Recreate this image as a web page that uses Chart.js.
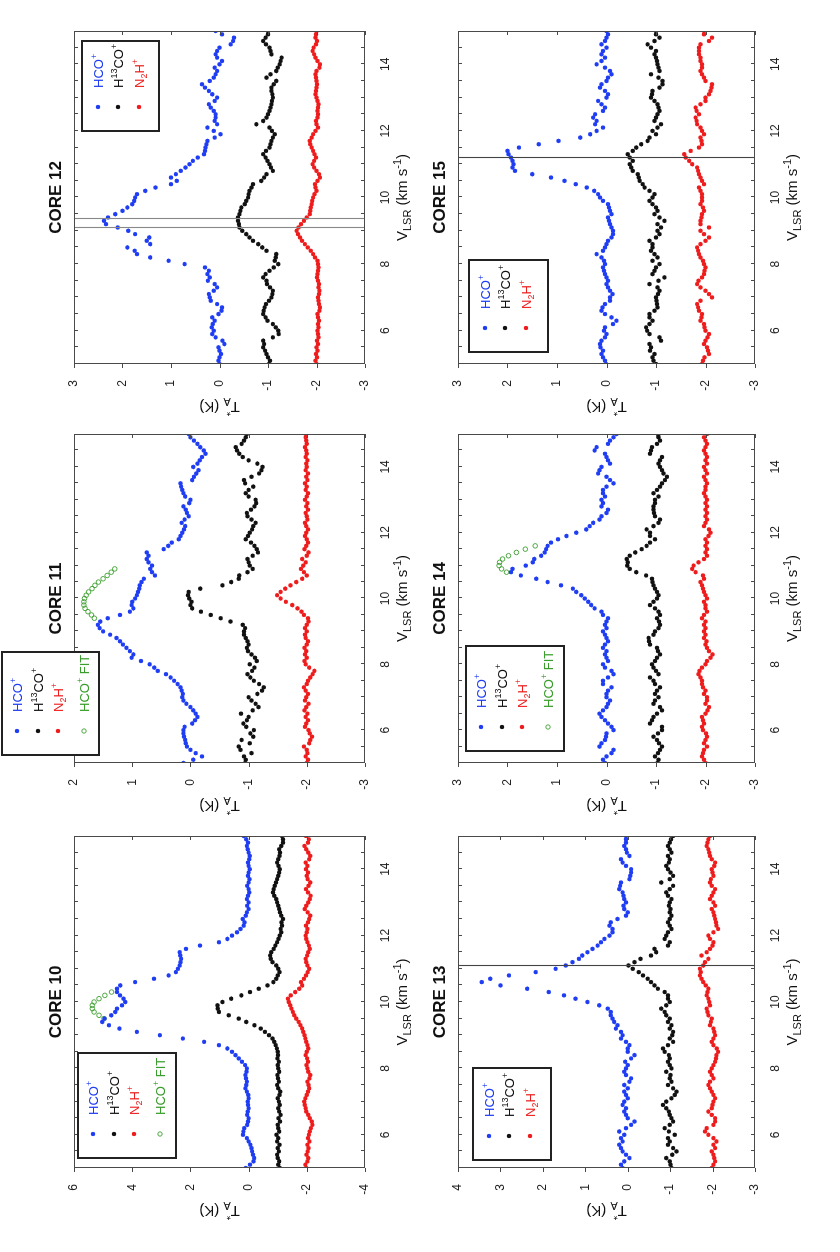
<!DOCTYPE html>
<html>
<head>
<meta charset="utf-8">
<script src="https://cdn.jsdelivr.net/npm/chart.js@4.4.1/dist/chart.umd.min.js"></script>
<style>
  html, body { margin: 0; padding: 0; background: #fff; overflow: hidden; }
  /* the figure is laid out landscape and turned a quarter turn, like the source page */
  #fig { position: absolute; left: 0; top: 0; width: 1252px; height: 840px;
         transform-origin: 0 0; transform: translate(0, 1252px) rotate(-90deg); }
  #fig canvas { position: absolute; }
</style>
</head>
<body>
<div id="fig"></div>
<script>
const FONT = 'Arial, "Liberation Sans", Helvetica, sans-serif'

// channel velocities (km/s)
const vel = [
  5.0, 5.1, 5.2, 5.3, 5.4, 5.5, 5.6, 5.7, 5.8, 5.9,
  6.0, 6.1, 6.2, 6.3, 6.4, 6.5, 6.6, 6.7, 6.8, 6.9,
  7.0, 7.1, 7.2, 7.3, 7.4, 7.5, 7.6, 7.7, 7.8, 7.9,
  8.0, 8.1, 8.2, 8.3, 8.4, 8.5, 8.6, 8.7, 8.8, 8.9,
  9.0, 9.1, 9.2, 9.3, 9.4, 9.5, 9.6, 9.7, 9.8, 9.9,
  10.0, 10.1, 10.2, 10.3, 10.4, 10.5, 10.6, 10.7, 10.8, 10.9,
  11.0, 11.1, 11.2, 11.3, 11.4, 11.5, 11.6, 11.7, 11.8, 11.9,
  12.0, 12.1, 12.2, 12.3, 12.4, 12.5, 12.6, 12.7, 12.8, 12.9,
  13.0, 13.1, 13.2, 13.3, 13.4, 13.5, 13.6, 13.7, 13.8, 13.9,
  14.0, 14.1, 14.2, 14.3, 14.4, 14.5, 14.6, 14.7, 14.8, 14.9,
  15.0
]

const xTicks = [6, 8, 10, 12, 14]

// ---- CORE 10 ----
const yTicks10 = [-4, -2, 0, 2, 4, 6]
const hco10 = [
  0.10, -0.05, -0.17, -0.19, -0.15, -0.12, -0.10, -0.06, 0.00, 0.06,
  0.19, 0.18, 0.15, 0.05, 0.02, 0.00, 0.05, 0.03, 0.00, 0.02,
  0.03, 0.00, 0.01, 0.06, 0.11, 0.08, 0.06, 0.09, 0.11, 0.07,
  0.06, 0.12, 0.23, 0.34, 0.45, 0.57, 0.73, 1.02, 1.53, 2.26,
  3.05, 3.84, 4.44, 4.80, 5.03, 4.95, 4.72, 4.58, 4.52, 4.35,
  4.24, 4.30, 4.42, 4.52, 4.52, 4.41, 3.90, 3.25, 2.75, 2.50,
  2.43, 2.37, 2.34, 2.32, 2.35, 2.37, 2.15, 1.67, 1.02, 0.73,
  0.57, 0.40, 0.28, 0.17, 0.14, 0.20, 0.10, 0.06, 0.00, 0.05,
  0.00, 0.06, 0.02, -0.02, 0.00, 0.05, 0.00, -0.03, 0.02, 0.00,
  -0.04, 0.00, 0.02, -0.02, -0.04, 0.00, 0.03, 0.06, 0.02, 0.08,
  0.17
]
const h13co10 = [
  -1.07, -1.02, -1.05, -1.00, -0.98, -1.04, -1.00, -1.06, -0.98, -1.02,
  -0.96, -1.05, -1.02, -1.00, -1.08, -1.03, -1.10, -1.05, -1.02, -1.07,
  -1.04, -1.00, -1.06, -1.09, -1.02, -0.98, -1.04, -1.01, -0.99, -1.05,
  -1.02, -1.00, -1.04, -0.99, -1.01, -1.00, -0.97, -0.93, -0.88, -0.82,
  -0.70, -0.56, -0.42, -0.20, 0.08, 0.34, 0.68, 1.02, 1.06, 1.07,
  0.90, 0.60, 0.25, -0.05, -0.35, -0.65, -0.85, -0.95, -1.00, -1.06,
  -1.02, -0.95, -0.82, -0.76, -0.74, -0.78, -0.86, -0.92, -0.98, -1.03,
  -1.07, -1.12, -1.10, -1.15, -1.13, -1.18, -1.12, -1.08, -1.05, -1.02,
  -0.98, -0.95, -0.88, -0.84, -0.86, -0.90, -0.94, -0.98, -1.02, -1.05,
  -1.07, -1.03, -0.98, -1.02, -1.06, -1.08, -1.05, -1.12, -1.18, -1.18,
  -1.15
]
const n2h10 = [
  -1.98, -1.95, -2.02, -2.05, -1.99, -2.03, -2.06, -2.02, -2.09, -2.04,
  -2.07, -2.10, -2.14, -2.19, -2.17, -2.10, -2.05, -1.98, -1.96, -1.93,
  -1.91, -1.95, -2.00, -2.04, -2.08, -2.06, -2.02, -2.09, -2.12, -2.05,
  -2.02, -1.99, -2.04, -2.01, -1.96, -2.00, -2.05, -2.02, -1.98, -1.95,
  -1.92, -1.88, -1.84, -1.78, -1.72, -1.64, -1.57, -1.52, -1.47, -1.43,
  -1.38, -1.35, -1.45, -1.60, -1.74, -1.84, -1.80, -1.90, -1.97, -2.03,
  -2.08, -2.02, -1.98, -1.96, -2.01, -2.05, -2.10, -2.07, -2.02, -1.98,
  -1.96, -2.00, -2.02, -1.97, -2.04, -2.08, -2.12, -2.03, -1.93, -1.98,
  -2.05, -2.10, -2.13, -2.04, -1.97, -2.06, -2.12, -2.03, -2.00, -2.04,
  -1.97, -2.02, -1.96, -2.08, -2.12, -2.05, -1.98, -1.92, -2.04, -2.07,
  -1.97
]
const fitVel10 = [9.5, 9.6, 9.7, 9.8, 9.9, 10.0, 10.1, 10.2, 10.3]
const fit10 = [4.97, 5.14, 5.31, 5.37, 5.37, 5.31, 5.14, 4.94, 4.71]

// ---- CORE 11 ----
const yTicks11 = [-3, -2, -1, 0, 1, 2]
const hco11 = [
  0.12, -0.05, -0.20, -0.09, 0.00, 0.06, 0.08, 0.09, 0.11, 0.12,
  0.12, 0.10, -0.03, -0.08, -0.12, -0.09, -0.05, 0.00, 0.07, 0.12,
  0.14, 0.13, 0.15, 0.17, 0.22, 0.28, 0.34, 0.42, 0.56, 0.62,
  0.70, 0.85, 1.01, 0.98, 1.04, 1.10, 1.16, 1.21, 1.27, 1.38,
  1.50, 1.56, 1.59, 1.55, 1.42, 1.21, 1.04, 0.98, 1.01, 1.00,
  0.95, 0.92, 0.90, 0.88, 0.87, 0.84, 0.80, 0.61, 0.66, 0.69,
  0.66, 0.72, 0.75, 0.72, 0.75, 0.46, 0.38, 0.32, 0.20, 0.17,
  0.14, 0.11, 0.09, 0.15, 0.10, 0.03, 0.06, 0.08, 0.12, 0.02,
  0.00, 0.09, 0.12, 0.14, 0.16, 0.17, -0.03, -0.06, -0.10, -0.14,
  -0.05, -0.12, -0.16, -0.20, -0.26, -0.23, -0.17, -0.12, -0.06, 0.00,
  0.03
]
const h13co11 = [
  -0.94, -0.95, -0.92, -1.05, -0.86, -0.83, -1.02, -0.88, -1.08, -1.03,
  -1.09, -0.96, -0.91, -0.97, -1.00, -0.87, -1.07, -1.17, -1.12, -1.05,
  -1.00, -1.15, -1.23, -1.26, -1.18, -1.09, -1.03, -0.98, -1.06, -1.10,
  -1.02, -1.14, -1.11, -1.05, -0.99, -0.97, -1.00, -0.98, -0.95, -0.92,
  -0.92, -0.94, -0.90, -0.69, -0.52, -0.35, -0.18, -0.03, 0.00, -0.02,
  0.02, 0.04, 0.03, -0.17, -0.55, -0.70, -0.83, -0.84, -0.98, -1.07,
  -1.02, -1.00, -0.98, -1.07, -1.16, -1.14, -1.10, -1.04, -0.95, -0.99,
  -1.02, -1.06, -1.08, -1.12, -1.05, -0.98, -0.97, -1.04, -1.10, -1.13,
  -1.12, -1.00, -0.95, -1.00, -1.08, -0.94, -0.92, -1.05, -1.18, -1.22,
  -1.24, -1.15, -1.00, -0.90, -0.84, -0.80, -0.78, -0.88, -0.92, -0.95,
  -0.97
]
const n2h11 = [
  -2.00, -2.02, -1.98, -2.01, -2.00, -1.95, -2.04, -2.06, -2.09, -2.05,
  -2.03, -1.97, -1.99, -2.02, -1.98, -2.01, -1.96, -1.99, -2.03, -1.97,
  -1.99, -2.02, -1.98, -1.95, -2.00, -2.02, -2.06, -2.10, -2.13, -2.04,
  -1.98, -1.96, -2.00, -1.97, -1.99, -1.96, -2.00, -2.02, -1.98, -1.97,
  -2.00, -1.97, -2.00, -2.03, -2.02, -1.95, -1.91, -1.84, -1.75, -1.64,
  -1.55, -1.49, -1.55, -1.63, -1.72, -1.82, -1.92, -2.00, -1.95, -1.90,
  -1.94, -1.98, -1.92, -2.00, -2.03, -1.96, -1.99, -2.02, -2.00, -1.97,
  -1.99, -2.02, -1.99, -1.97, -2.01, -2.00, -1.98, -2.02, -1.99, -2.01,
  -1.97, -2.00, -2.02, -1.98, -2.00, -1.97, -2.01, -1.99, -2.02, -1.98,
  -2.00, -1.99, -2.01, -1.98, -2.00, -1.99, -1.97, -2.00, -1.99, -1.98,
  -1.98
]
const fitVel11 = [9.4, 9.5, 9.6, 9.7, 9.8, 9.9, 10.0, 10.1, 10.2, 10.3, 10.4, 10.5, 10.6, 10.7, 10.8, 10.9]
const fit11 = [1.65, 1.70, 1.76, 1.81, 1.83, 1.83, 1.82, 1.79, 1.75, 1.69, 1.64, 1.58, 1.50, 1.43, 1.36, 1.30]

// ---- CORE 12 ----
const yTicks12 = [-3, -2, -1, 0, 1, 2, 3]
const hco12 = [
  0.00, 0.02, 0.00, -0.03, 0.00, 0.02, -0.10, -0.06, 0.08, 0.15,
  0.12, 0.16, 0.14, 0.10, 0.15, 0.02, -0.04, -0.05, 0.05, 0.18,
  0.20, 0.22, 0.12, 0.05, 0.10, 0.24, 0.20, 0.25, 0.22, 0.30,
  0.72, 1.05, 1.43, 1.70, 1.75, 1.90, 1.43, 1.50, 1.45, 1.74,
  1.88, 2.10, 2.34, 2.38, 2.30, 2.15, 2.00, 1.90, 1.80, 1.76,
  1.74, 1.70, 1.53, 1.32, 1.00, 0.88, 1.00, 0.90, 0.80, 0.70,
  0.62, 0.55, 0.45, 0.32, 0.30, 0.29, 0.27, 0.25, 0.10, -0.02,
  0.12, 0.25, 0.05, 0.10, 0.08, 0.08, 0.12, 0.18, 0.22, 0.10,
  0.05, 0.15, 0.22, 0.30, 0.36, 0.20, 0.12, 0.08, 0.05, 0.10,
  0.00, -0.05, 0.05, 0.08, 0.05, 0.00, -0.23, -0.28, -0.30, -0.05,
  0.08
]
const h13co12 = [
  -1.02, -1.04, -1.00, -0.97, -0.94, -0.90, -0.92, -0.90, -1.10, -1.22,
  -1.21, -1.16, -1.10, -0.99, -0.95, -0.90, -0.91, -0.93, -0.96, -1.02,
  -1.07, -1.09, -1.10, -1.04, -0.98, -0.97, -0.90, -0.95, -1.03, -1.12,
  -1.21, -1.14, -1.16, -1.17, -0.97, -0.88, -0.80, -0.69, -0.62, -0.55,
  -0.47, -0.41, -0.40, -0.38, -0.38, -0.41, -0.43, -0.45, -0.52, -0.55,
  -0.59, -0.60, -0.62, -0.66, -0.69, -0.86, -0.92, -0.97, -1.10, -1.06,
  -1.03, -0.99, -0.95, -0.90, -0.96, -1.03, -1.05, -1.07, -1.10, -1.14,
  -1.08, -1.03, -0.76, -0.90, -0.97, -1.00, -1.03, -1.05, -1.07, -1.08,
  -1.10, -1.09, -1.07, -1.07, -1.12, -1.17, -0.97, -1.05, -1.17, -1.20,
  -1.24, -1.26, -1.28, -1.07, -1.05, -1.03, -0.96, -0.90, -0.95, -1.00,
  -1.00
]
const n2h12 = [
  -2.00, -1.98, -2.01, -1.99, -2.02, -2.00, -2.03, -2.01, -2.04, -2.03,
  -2.02, -2.04, -2.03, -2.05, -2.03, -2.02, -2.06, -2.07, -2.05, -2.04,
  -2.03, -2.05, -2.06, -2.04, -2.05, -2.03, -2.01, -2.02, -2.03, -2.04,
  -2.03, -2.02, -1.97, -1.93, -1.88, -1.82, -1.76, -1.70, -1.66, -1.62,
  -1.59, -1.63, -1.68, -1.74, -1.80, -1.86, -1.87, -1.88, -1.90, -1.91,
  -1.93, -1.96, -2.00, -1.98, -1.97, -2.02, -2.07, -2.05, -2.00, -1.95,
  -1.92, -1.95, -1.99, -1.96, -1.93, -1.90, -1.87, -1.86, -1.90, -1.93,
  -1.98, -2.03, -2.00, -1.99, -2.02, -2.03, -2.02, -2.03, -2.04, -2.02,
  -2.00, -1.98, -1.99, -2.00, -2.01, -2.00, -1.99, -1.98, -2.00, -2.06,
  -2.07, -2.02, -1.98, -1.95, -1.92, -1.94, -1.99, -2.01, -1.98, -1.99,
  -2.00
]
const lines12 = [9.07, 9.35]

// ---- CORE 13 ----
const yTicks13 = [-3, -2, -1, 0, 1, 2, 3, 4]
const hco13 = [
  0.12, 0.16, 0.08, -0.04, 0.04, 0.12, 0.16, 0.20, 0.12, 0.16,
  0.08, 0.20, 0.04, -0.08, -0.16, 0.00, 0.04, 0.08, 0.04, 0.12,
  0.08, 0.00, 0.04, 0.08, 0.00, 0.08, -0.04, -0.08, 0.04, 0.08,
  0.04, 0.00, 0.06, -0.08, -0.16, 0.00, 0.00, -0.04, 0.04, 0.16,
  0.12, 0.16, 0.28, 0.24, 0.32, 0.36, 0.40, 0.40, 0.47, 0.67,
  0.95, 1.23, 1.50, 1.86, 2.37, 3.00, 3.44, 3.24, 2.80, 2.17,
  1.70, 1.46, 1.30, 1.15, 1.07, 0.95, 0.83, 0.71, 0.63, 0.55,
  0.43, 0.36, 0.36, 0.43, 0.40, 0.24, 0.04, 0.00, 0.08, 0.10,
  0.04, 0.08, 0.10, 0.12, 0.20, 0.18, 0.16, -0.04, -0.06, -0.08,
  -0.08, 0.04, 0.12, 0.16, -0.04, 0.02, 0.04, 0.08, 0.04, 0.04,
  0.04
]
const h13co13 = [
  -1.03, -1.01, -0.99, -0.91, -1.05, -1.15, -1.07, -0.95, -0.99, -0.95,
  -1.11, -0.97, -0.87, -0.99, -1.07, -1.03, -0.99, -0.97, -0.91, -0.83,
  -0.91, -1.03, -1.11, -1.15, -1.07, -0.95, -1.03, -0.99, -1.01, -0.91,
  -1.03, -0.99, -0.95, -0.99, -0.97, -0.87, -0.83, -0.95, -1.07, -0.99,
  -1.05, -1.07, -0.99, -1.03, -0.95, -0.99, -0.91, -0.87, -0.79, -0.91,
  -0.99, -0.95, -0.95, -0.87, -0.71, -0.63, -0.55, -0.47, -0.36, -0.26,
  -0.12, -0.02, -0.16, -0.30, -0.55, -0.67, -0.63, -0.95, -0.99, -0.87,
  -0.91, -0.95, -1.03, -0.99, -0.95, -0.99, -1.03, -0.99, -1.01, -0.97,
  -0.99, -1.03, -0.95, -0.91, -0.99, -1.07, -0.79, -0.99, -1.07, -1.01,
  -0.95, -0.91, -0.97, -0.99, -0.95, -1.03, -0.99, -0.95, -0.99, -1.02,
  -1.07
]
const n2h13 = [
  -1.98, -2.02, -2.06, -2.04, -2.02, -1.98, -2.06, -2.02, -2.09, -2.02,
  -1.90, -1.82, -1.86, -2.02, -2.06, -2.06, -1.98, -1.90, -1.98, -2.00,
  -2.02, -2.06, -2.02, -1.98, -1.94, -1.90, -1.94, -2.02, -1.98, -1.94,
  -1.98, -2.02, -2.06, -2.08, -2.09, -2.13, -2.10, -2.02, -1.98, -2.02,
  -2.06, -2.04, -2.02, -1.94, -1.96, -1.98, -1.90, -1.88, -1.86, -1.94,
  -1.92, -1.90, -1.86, -1.88, -1.90, -1.84, -1.78, -1.74, -1.70, -1.72,
  -1.70, -1.78, -1.82, -1.90, -1.74, -1.86, -1.94, -2.00, -2.02, -1.94,
  -1.90, -2.02, -2.13, -2.09, -2.08, -2.06, -2.04, -2.02, -1.98, -2.06,
  -2.02, -1.94, -1.98, -2.02, -2.06, -1.98, -1.94, -1.96, -2.02, -2.00,
  -1.98, -2.04, -2.06, -1.98, -1.94, -1.92, -1.90, -1.86, -1.88, -1.90,
  -1.94
]
const lines13 = [11.08]

// ---- CORE 14 ----
const yTicks14 = [-3, -2, -1, 0, 1, 2, 3]
const hco14 = [
  0.03, 0.07, 0.00, -0.10, -0.14, 0.14, 0.10, 0.03, 0.01, 0.00,
  -0.14, -0.10, -0.03, 0.03, 0.10, 0.14, 0.07, 0.00, -0.03, -0.07,
  0.00, 0.00, -0.03, -0.10, 0.07, 0.07, -0.03, -0.14, -0.10, 0.03,
  0.07, -0.03, 0.00, 0.03, 0.00, 0.07, 0.03, -0.03, 0.00, 0.03,
  0.07, 0.00, 0.03, 0.00, -0.03, 0.07, 0.10, 0.24, 0.31, 0.37,
  0.44, 0.51, 0.61, 0.68, 0.92, 1.19, 1.42, 1.73, 1.93, 1.90,
  1.63, 1.49, 1.46, 1.32, 1.25, 1.22, 1.19, 1.12, 0.98, 0.81,
  0.61, 0.41, 0.34, 0.27, 0.14, 0.10, 0.00, -0.03, 0.10, 0.07,
  0.10, 0.03, 0.07, 0.07, 0.00, -0.14, -0.07, 0.00, 0.17, 0.14,
  0.10, -0.07, -0.03, 0.00, 0.03, 0.24, 0.20, -0.03, -0.07, -0.14,
  -0.20
]
const h13co14 = [
  -1.03, -1.05, -0.98, -1.04, -1.08, -1.12, -1.06, -1.02, -0.95, -1.04,
  -1.12, -1.12, -0.88, -0.92, -0.95, -1.02, -1.12, -1.08, -0.95, -0.98,
  -1.05, -0.98, -1.02, -1.08, -0.98, -0.95, -0.88, -1.05, -1.00, -0.95,
  -0.92, -0.98, -1.02, -1.08, -1.04, -1.02, -0.88, -0.86, -0.85, -0.95,
  -0.98, -1.05, -1.08, -1.06, -1.02, -1.08, -1.05, -0.98, -0.88, -0.95,
  -1.02, -1.05, -1.02, -0.98, -0.95, -0.93, -0.92, -0.80, -0.60, -0.47,
  -0.42, -0.43, -0.41, -0.47, -0.58, -0.71, -0.81, -0.88, -0.98, -0.88,
  -0.88, -0.81, -0.95, -1.05, -1.08, -0.98, -0.96, -0.95, -0.95, -0.98,
  -0.98, -1.05, -0.95, -1.02, -1.08, -1.12, -1.18, -1.22, -1.15, -1.12,
  -1.08, -1.05, -1.08, -1.12, -0.88, -0.90, -0.92, -1.02, -1.08, -1.05,
  -1.05
]
const n2h14 = [
  -2.00, -1.97, -1.93, -1.95, -1.97, -2.03, -1.97, -2.00, -2.03, -2.01,
  -1.95, -1.93, -1.97, -1.95, -1.93, -2.00, -2.04, -2.07, -2.00, -2.03,
  -2.03, -1.97, -2.00, -1.95, -1.93, -1.93, -1.90, -1.86, -1.88, -1.93,
  -2.00, -2.03, -2.10, -2.14, -2.07, -2.03, -2.00, -2.02, -1.97, -2.00,
  -1.97, -2.00, -1.97, -2.00, -1.93, -1.97, -2.03, -2.00, -2.00, -1.97,
  -2.03, -2.00, -1.97, -1.95, -1.93, -1.90, -1.97, -1.95, -1.80, -1.73,
  -1.76, -1.86, -1.97, -2.03, -2.00, -2.03, -2.00, -2.03, -2.00, -2.06,
  -2.10, -2.07, -1.97, -2.00, -2.03, -2.00, -2.03, -2.00, -2.03, -2.00,
  -2.03, -2.00, -1.97, -2.00, -2.00, -2.03, -2.00, -1.97, -2.03, -2.00,
  -1.97, -2.03, -2.00, -2.03, -2.00, -1.97, -2.00, -2.03, -2.00, -1.97,
  -2.03
]
const fitVel14 = [10.8, 10.9, 11.0, 11.1, 11.2, 11.3, 11.4, 11.5, 11.6]
const fit14 = [2.02, 2.12, 2.17, 2.16, 2.10, 1.98, 1.82, 1.64, 1.44]

// ---- CORE 15 ----
const yTicks15 = [-3, -2, -1, 0, 1, 2, 3]
const hco15 = [
  0.01, 0.03, 0.07, 0.10, 0.07, 0.12, 0.13, 0.10, 0.03, 0.00,
  0.05, 0.03, -0.13, -0.20, -0.10, 0.03, 0.10, 0.08, 0.03, -0.07,
  -0.07, -0.12, -0.07, -0.03, 0.00, -0.03, 0.00, 0.03, 0.05, 0.07,
  0.03, 0.05, 0.10, 0.20, 0.07, 0.03, 0.00, -0.03, -0.10, -0.13,
  -0.13, -0.10, -0.07, -0.05, -0.03, -0.10, -0.07, -0.05, -0.03, 0.07,
  0.13, 0.17, 0.25, 0.40, 0.62, 0.85, 1.12, 1.50, 1.85, 1.90,
  1.88, 1.90, 1.93, 1.98, 2.00, 1.77, 1.37, 0.97, 0.53, 0.33,
  0.20, 0.07, 0.23, 0.20, 0.27, 0.23, 0.07, 0.03, 0.10, 0.17,
  0.00, -0.03, 0.03, 0.13, 0.10, 0.00, -0.03, -0.10, -0.07, 0.03,
  0.20, 0.10, 0.03, 0.10, 0.07, 0.00, 0.10, 0.03, 0.00, -0.03,
  0.00
]
const h13co15 = [
  -1.00, -0.95, -0.93, -0.97, -0.88, -0.90, -0.87, -1.10, -1.07, -0.87,
  -0.82, -0.80, -0.87, -0.93, -0.87, -0.87, -0.97, -1.03, -1.02, -1.01,
  -1.00, -1.04, -1.07, -1.03, -0.87, -1.05, -1.17, -0.93, -0.97, -1.00,
  -1.07, -0.93, -1.03, -0.97, -0.90, -0.93, -0.93, -0.87, -1.00, -1.07,
  -1.03, -1.10, -1.03, -1.17, -1.07, -0.97, -1.03, -1.00, -0.93, -0.87,
  -0.93, -0.97, -0.87, -0.77, -0.73, -0.67, -0.65, -0.63, -0.53, -0.50,
  -0.47, -0.53, -0.47, -0.43, -0.53, -0.60, -0.70, -0.83, -0.87, -1.00,
  -0.93, -1.03, -1.10, -0.97, -1.00, -1.03, -1.07, -1.05, -1.03, -0.97,
  -0.90, -0.92, -0.93, -1.07, -1.13, -1.13, -1.05, -0.90, -1.07, -1.05,
  -1.03, -1.02, -1.00, -0.97, -1.00, -0.90, -0.83, -0.97, -1.07, -1.00,
  -1.00
]
const n2h15 = [
  -1.93, -1.95, -1.98, -2.07, -2.05, -2.03, -1.97, -2.00, -2.04, -2.07,
  -2.00, -1.98, -1.97, -1.90, -1.92, -1.93, -1.87, -1.85, -1.83, -1.90,
  -2.13, -2.07, -2.00, -1.90, -1.83, -1.86, -1.93, -1.97, -1.98, -2.00,
  -1.97, -1.95, -1.90, -1.87, -1.85, -1.83, -1.90, -2.00, -2.07, -1.97,
  -1.90, -2.07, -1.90, -1.90, -1.92, -1.93, -1.97, -1.95, -1.90, -1.93,
  -1.93, -1.93, -1.90, -1.87, -1.97, -1.93, -1.90, -1.87, -1.85, -1.83,
  -1.73, -1.67, -1.60, -1.57, -1.70, -1.87, -1.93, -1.92, -1.90, -1.97,
  -1.93, -1.90, -1.83, -1.82, -1.80, -1.87, -1.82, -1.80, -1.90, -2.00,
  -2.00, -2.07, -2.10, -2.12, -2.13, -2.00, -1.97, -1.93, -1.90, -1.93,
  -1.93, -1.90, -1.90, -1.87, -1.87, -1.87, -1.90, -2.07, -2.13, -1.97,
  -1.97
]
const lines15 = [11.2]

// how each species is drawn (text parts: 0 normal, 1 superscript, -1 subscript)
const species = [
  { label: 'HCO+', color: '#1f3df2', parts: [['HCO', 0], ['+', 1]] },
  { label: 'H13CO+', color: '#111111', parts: [['H', 0], ['13', 1], ['CO', 0], ['+', 1]] },
  { label: 'N2H+', color: '#ee1c1c', parts: [['N', 0], ['2', -1], ['H', 0], ['+', 1]] }
]
const fitSpecies = { label: 'HCO+ FIT', color: '#3a9e2c', parts: [['HCO', 0], ['+', 1], [' FIT', 0]] }

// plot rectangles in the landscape figure, legend box relative to plot corner
const panels = [
  { title: 'CORE 10', left: 84, top: 74, w: 332, h: 291, yMin: -4, yMax: 6, yTicks: yTicks10,
    series: [hco10, h13co10, n2h10], fit: [fitVel10, fit10], lines: [], legend: [10, 4, 105, 98] },
  { title: 'CORE 11', left: 489, top: 74, w: 329, h: 291, yMin: -3, yMax: 2, yTicks: yTicks11,
    series: [hco11, h13co11, n2h11], fit: [fitVel11, fit11], lines: [], legend: [8, -72, 103, 97] },
  { title: 'CORE 12', left: 888, top: 74, w: 333, h: 291, yMin: -3, yMax: 3, yTicks: yTicks12,
    series: [hco12, h13co12, n2h12], fit: null, lines: lines12, lineColor: '#888', legend: [233, 8, 90, 77] },
  { title: 'CORE 13', left: 84, top: 458, w: 332, h: 297, yMin: -3, yMax: 4, yTicks: yTicks13,
    series: [hco13, h13co13, n2h13], fit: null, lines: lines13, lineColor: '#444', legend: [8, 15, 92, 78] },
  { title: 'CORE 14', left: 489, top: 458, w: 329, h: 297, yMin: -3, yMax: 3, yTicks: yTicks14,
    series: [hco14, h13co14, n2h14], fit: [fitVel14, fit14], lines: [], legend: [12, 8, 105, 98] },
  { title: 'CORE 15', left: 888, top: 458, w: 333, h: 297, yMin: -3, yMax: 3, yTicks: yTicks15,
    series: [hco15, h13co15, n2h15], fit: null, lines: lines15, lineColor: '#444', legend: [12, 11, 92, 79] }
]

function richWidth(ctx, parts, size) {
  let w = 0
  for (const [t, m, stay] of parts) {
    ctx.font = (m ? Math.round(size * 0.7) : size) + 'px ' + FONT
    if (!stay) w += ctx.measureText(t).width
  }
  return w
}

function drawRich(ctx, parts, x, y, size, color, align) {
  let cx = align === 'center' ? x - richWidth(ctx, parts, size) / 2 : x
  ctx.fillStyle = color
  ctx.textAlign = 'left'
  ctx.textBaseline = 'alphabetic'
  for (const [t, m, stay] of parts) {
    const s = m ? Math.round(size * 0.7) : size
    ctx.font = s + 'px ' + FONT
    const dy = m === 1 ? -size * 0.42 : (m === -1 ? size * 0.28 : 0)
    ctx.fillText(t, cx, y + dy)
    if (!stay) cx += ctx.measureText(t).width
  }
}

const xTitle = [['V', 0], ['LSR', -1], [' (km s', 0], ['-1', 1], [')', 0]]
const yTitle = [['T', 0], ['*', 1, true], ['A', -1], [' (K)', 0]]

function makeDecor(p) {
  return {
    id: 'decor',
    afterDatasetsDraw(chart) {
      const { ctx, chartArea: a, scales: { x, y } } = chart
      ctx.save()
      // marker lines
      ctx.strokeStyle = p.lineColor || '#444'
      ctx.lineWidth = 1.1
      ctx.beginPath()
      for (const v of p.lines) {
        const px = Math.round(x.getPixelForValue(v)) + 0.5
        ctx.moveTo(px, a.top)
        ctx.lineTo(px, a.bottom)
      }
      ctx.stroke()
      // frame; velocity ticks point inward, temperature ticks out on the left, in on the right
      ctx.strokeStyle = '#4a4a4a'
      ctx.lineWidth = 1
      ctx.strokeRect(Math.round(a.left) + 0.5, Math.round(a.top) + 0.5,
        Math.round(a.right - a.left) - 1, Math.round(a.bottom - a.top) - 1)
      const tl = 4
      ctx.beginPath()
      for (let k = 1; k < 20; k++) {
        const px = Math.round(x.getPixelForValue(5 + k * 0.5)) + 0.5
        ctx.moveTo(px, a.bottom); ctx.lineTo(px, a.bottom - tl)
        ctx.moveTo(px, a.top); ctx.lineTo(px, a.top + tl)
      }
      for (const t of p.yTicks) {
        const py = Math.round(y.getPixelForValue(t)) + 0.5
        ctx.moveTo(a.left, py); ctx.lineTo(a.left - tl, py)
        ctx.moveTo(a.right, py); ctx.lineTo(a.right - tl, py)
      }
      ctx.stroke()
      ctx.restore()
    },
    afterDraw(chart) {
      const { ctx, chartArea: a } = chart
      const cx = (a.left + a.right) / 2
      ctx.save()
      // title
      ctx.font = 'bold 17px ' + FONT
      ctx.fillStyle = '#111'
      ctx.textAlign = 'center'
      ctx.textBaseline = 'alphabetic'
      ctx.fillText(p.title, cx, a.top - 13)
      // axis titles
      drawRich(ctx, xTitle, cx, a.bottom + 42, 15, '#111', 'center')
      ctx.save()
      ctx.translate(a.left - 38, (a.top + a.bottom) / 2)
      ctx.rotate(-Math.PI / 2)
      drawRich(ctx, yTitle, 0, 0, 15, '#111', 'center')
      ctx.restore()
      // legend box
      const [ox, oy, bw, bh] = p.legend
      const bx = Math.round(a.left + ox), by = Math.round(a.top + oy)
      ctx.fillStyle = '#fff'
      ctx.fillRect(bx, by, bw, bh)
      ctx.strokeStyle = '#222'
      ctx.lineWidth = 2
      ctx.strokeRect(bx, by, bw, bh)
      const entries = p.fit ? species.concat([fitSpecies]) : species
      const rows = p.fit ? [15, 36, 56, 82] : [16, 36, 57]
      entries.forEach((e, i) => {
        const ry = by + rows[i]
        ctx.beginPath()
        ctx.arc(bx + 24, ry, 2.2, 0, Math.PI * 2)
        if (e === fitSpecies) {
          ctx.strokeStyle = e.color
          ctx.lineWidth = 0.9
          ctx.stroke()
        } else {
          ctx.fillStyle = e.color
          ctx.fill()
        }
        drawRich(ctx, e.parts, bx + 43, ry + 4.6, 13, e.color, 'left')
      })
      ctx.restore()
    }
  }
}

const fig = document.getElementById('fig')

panels.forEach(p => {
  const cv = document.createElement('canvas')
  const cw = p.w + 96, ch = p.h + 138
  cv.width = cw
  cv.height = ch
  cv.style.left = (p.left - 84) + 'px'
  cv.style.top = (p.top - 74) + 'px'
  cv.style.width = cw + 'px'
  cv.style.height = ch + 'px'
  fig.appendChild(cv)

  const datasets = p.series.map((arr, k) => ({
    label: species[k].label,
    data: vel.map((v, i) => ({ x: v, y: arr[i] })),
    backgroundColor: species[k].color,
    borderWidth: 0,
    pointRadius: 2.2
  }))
  if (p.fit) {
    datasets.push({
      label: fitSpecies.label,
      data: p.fit[0].map((v, i) => ({ x: v, y: p.fit[1][i] })),
      backgroundColor: 'rgba(0,0,0,0)',
      borderColor: fitSpecies.color,
      borderWidth: 0.9,
      pointRadius: 2.3
    })
  }

  const tickFont = { family: FONT, size: 12 }
  new Chart(cv, {
    type: 'scatter',
    data: { datasets },
    options: {
      responsive: false,
      animation: false,
      events: [],
      layout: { padding: { left: 54, top: 74, right: 12, bottom: 40 } },
      plugins: { legend: { display: false }, title: { display: false }, tooltip: { enabled: false } },
      scales: {
        x: {
          type: 'linear', min: 5, max: 15,
          grid: { display: false }, border: { display: false },
          afterBuildTicks: s => { s.ticks = xTicks.map(v => ({ value: v })) },
          afterFit: s => { s.height = 24 },
          ticks: { padding: 5, color: '#222', font: tickFont, maxRotation: 0, autoSkip: false,
                   callback: v => String(v) }
        },
        y: {
          type: 'linear', min: p.yMin, max: p.yMax,
          grid: { display: false }, border: { display: false },
          afterBuildTicks: s => { s.ticks = p.yTicks.map(v => ({ value: v })) },
          afterFit: s => { s.width = 30 },
          ticks: { padding: 8, color: '#222', font: tickFont, autoSkip: false,
                   callback: v => String(v) }
        }
      }
    },
    plugins: [makeDecor(p)]
  })
})
</script>
</body>
</html>
